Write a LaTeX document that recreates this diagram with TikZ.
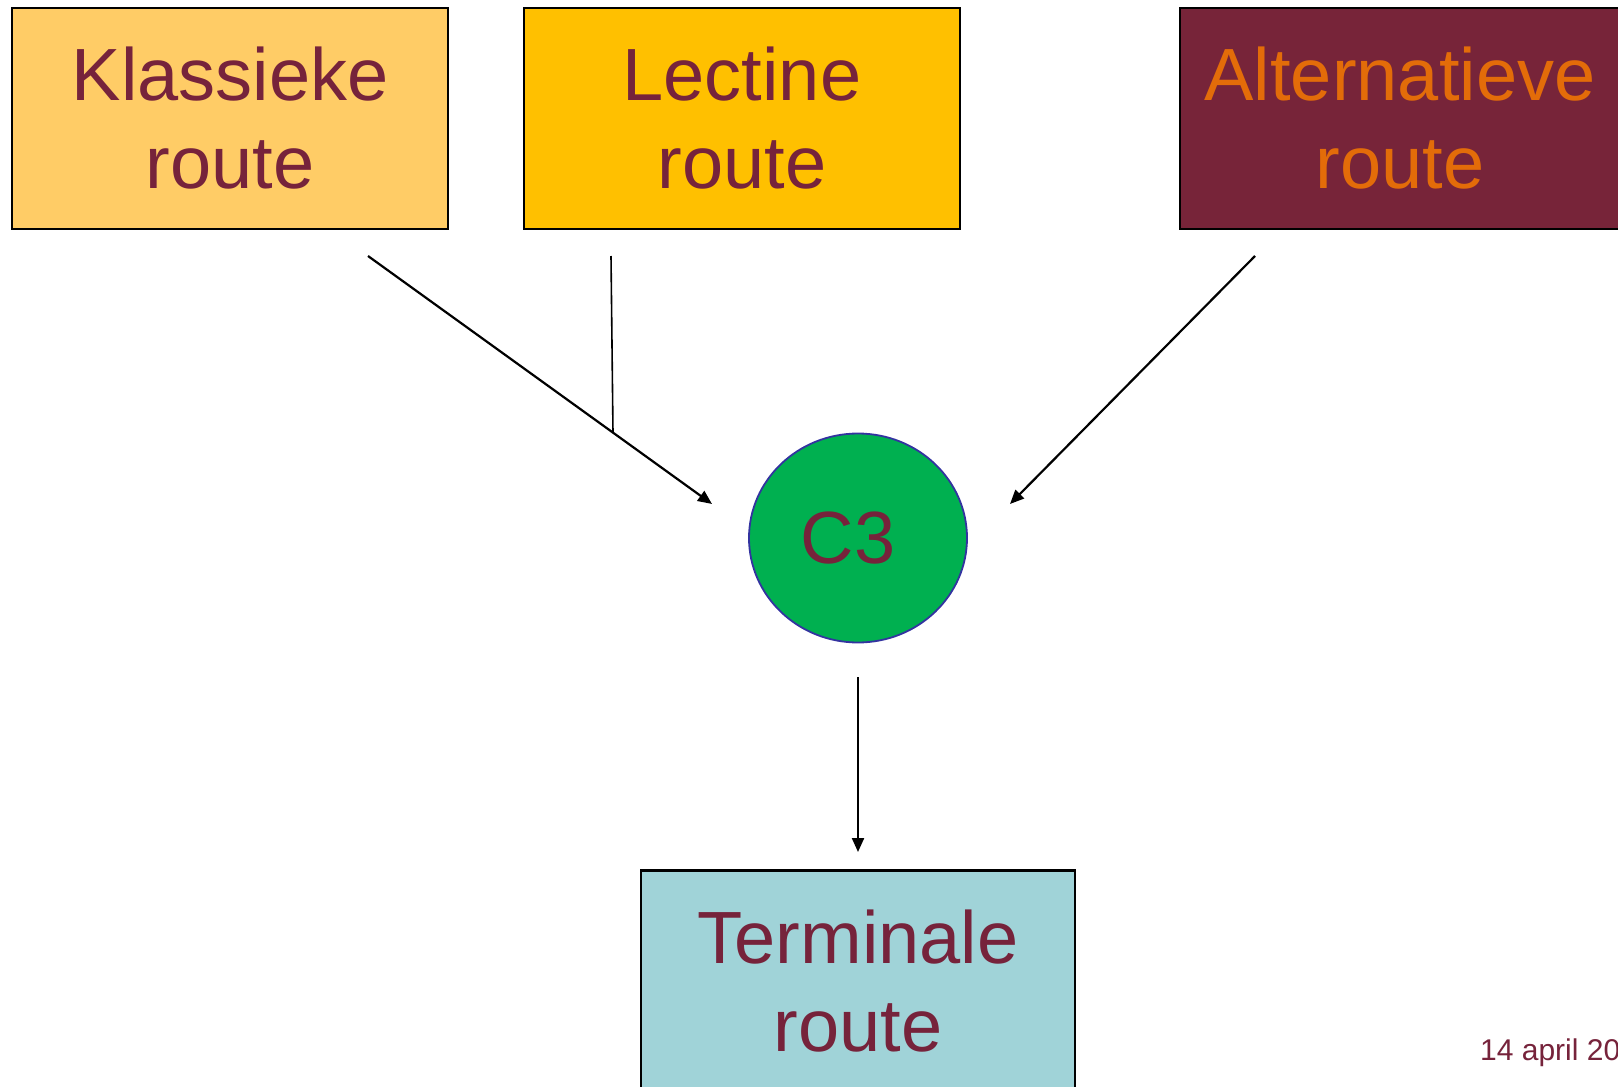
\documentclass[tikz,border=0pt]{standalone}
\usepackage{fontspec}
\setmainfont{Liberation Sans}
\usetikzlibrary{arrows.meta,shapes.geometric}
\definecolor{maroon}{HTML}{76233B}
\definecolor{klfill}{HTML}{FFCC66}
\definecolor{lefill}{HTML}{FFC000}
\definecolor{alfill}{HTML}{772439}
\definecolor{altext}{HTML}{E36C09}
\definecolor{tefill}{HTML}{A0D3D8}
\definecolor{cgreen}{HTML}{00B050}
\definecolor{cblue}{HTML}{3333A0}
\begin{document}
\begin{tikzpicture}[x=1pt,y=-1pt,
  routebox/.style={draw=black,line width=2.2pt,minimum width=436pt,minimum height=221pt,
    align=center,inner sep=0pt,font=\fontsize{74}{88}\selectfont,text=maroon},
  conn/.style={line width=2.2pt,-{Triangle[length=14pt,width=12pt]}}]
\useasboundingbox (0,0) rectangle (1618,1087);
\node[routebox,fill=klfill] (kl) at (230,118.5) {Klassieke\\route};
\node[routebox,fill=lefill] (le) at (742,118.5) {Lectine\\route};
\node[routebox,fill=alfill,text=altext,minimum width=440pt] (al) at (1400,118.5) {Alternatieve\\route};
\node[routebox,fill=tefill,minimum width=434pt] (te) at (858,981) {Terminale\\route};
\node[ellipse,draw=cblue,line width=1.8pt,fill=cgreen,minimum width=218pt,minimum height=209pt,
  inner sep=0pt,font=\fontsize{74}{88}\selectfont,text=maroon] (c3) at (858,538) {C3\hspace*{20pt}};
\coordinate (klA) at (368,256);
\coordinate (klB) at (712,504);
\coordinate (leA) at (611,256);
\coordinate (leB) at (613,433);
\coordinate (alA) at (1255,256);
\coordinate (alB) at (1010,504);
\coordinate (c3A) at (858,677);
\coordinate (c3B) at (858,852);
\draw[conn] (klA) -- (klB);
\draw[line width=1.6pt] (leA) -- (leB);
\draw[conn] (alA) -- (alB);
\draw[conn] (c3A) -- (c3B);
\node[anchor=base west,inner sep=0pt,font=\fontsize{30}{36}\selectfont,text=maroon] (date) at (1480,1060) {14 april 20};
\end{tikzpicture}
\end{document}
